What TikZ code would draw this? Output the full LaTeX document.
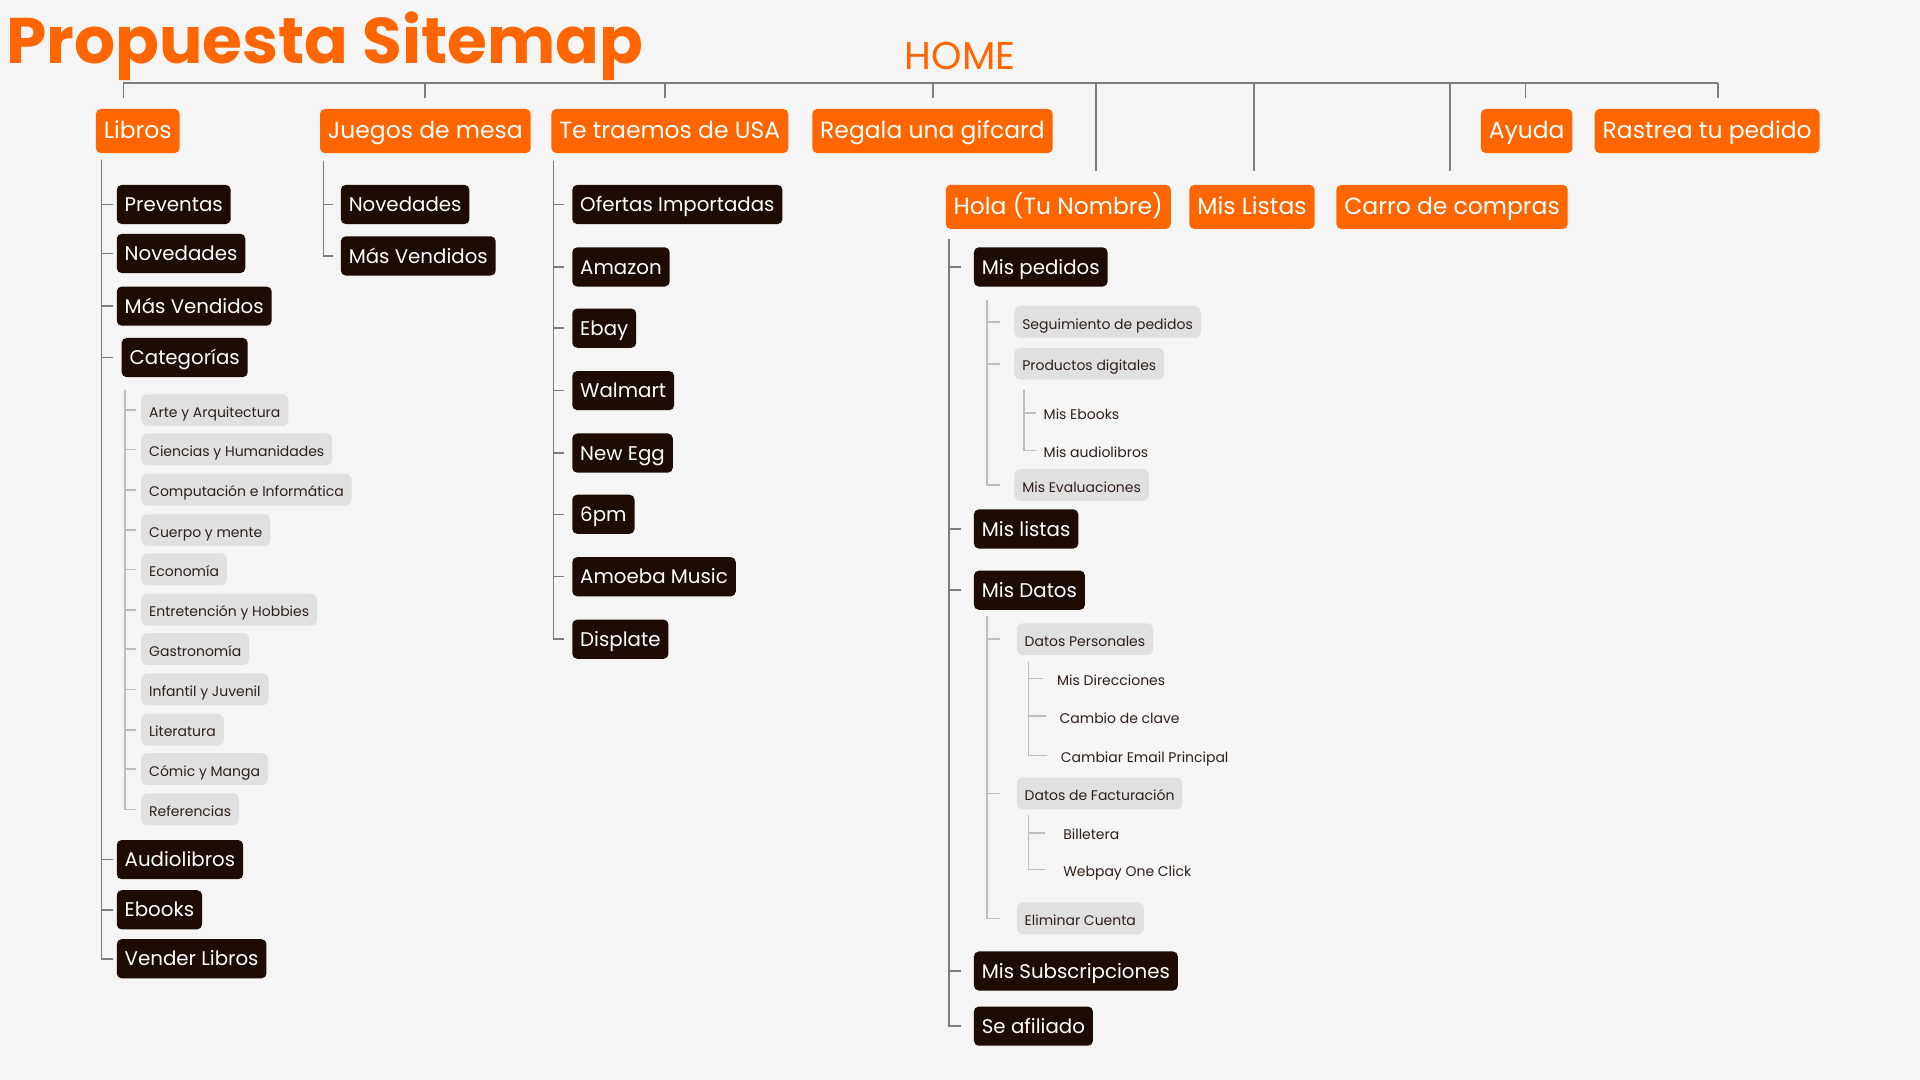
\documentclass[tikz,border=0pt]{standalone}
\usepackage{fontspec}
\setmainfont{Poppins}
\usetikzlibrary{calc,positioning}
\definecolor{naranja}{HTML}{FF6600}
\definecolor{oscuro}{HTML}{1C0C04}
\definecolor{gris}{HTML}{E0E0E0}
\definecolor{linea}{HTML}{7D7D7D}
\definecolor{lineaclara}{HTML}{BDBDBD}
\definecolor{fondo}{HTML}{F5F5F5}
\definecolor{textogris}{HTML}{2E2019}
\tikzset{
  titulo/.style={text=naranja, font=\fontsize{30}{35}\selectfont\bfseries, inner sep=0pt, anchor=base west},
  inicio/.style={text=naranja, font=\fontsize{18}{21}\selectfont, inner sep=0pt, anchor=base},
  caja/.style={inner xsep=0.13cm, inner ysep=0pt, anchor=west, text height=0.8em, text depth=0.14em},
  nivel1/.style={caja, fill=naranja, text=white, rounded corners=0.08cm, font=\fontsize{10.9}{13}\selectfont, minimum height=0.72cm},
  nivel2/.style={caja, fill=oscuro, text=white, rounded corners=0.08cm, font=\fontsize{9.2}{11}\selectfont, minimum height=0.64cm},
  nivel3/.style={caja, fill=gris, text=textogris, rounded corners=0.1cm, font=\fontsize{6.5}{8}\selectfont, minimum height=0.52cm},
  nivel4/.style={text=textogris, font=\fontsize{6.5}{8}\selectfont, inner sep=0pt, anchor=west, text height=0.8em, text depth=0.14em},
  rama/.style={draw=linea, line width=0.7pt, shorten >=#1},
  rama/.default=0pt,
  ramita/.style={draw=lineaclara, line width=0.8pt, shorten >=#1},
  ramita/.default=0pt,
}
\begin{document}
\begin{tikzpicture}[x=0.02cm,y=-0.02cm]
	\fill[fondo] (0,0) rectangle (1568,882);
	\useasboundingbox (0,0) rectangle (1568,882);
	\node[titulo] (titulo) at (5,52) {Propuesta Sitemap};
	\node[inicio] (home) at (784,57) {HOME};

	\node[nivel1] (libros) at (78,107) {Libros};
	\node[nivel1] (juegos) at (261,107) {Juegos de mesa};
	\node[nivel1] (usa) at (450,107) {Te traemos de USA};
	\node[nivel1] (regala) at (663,107) {Regala una gifcard};
	\node[nivel1] (ayuda) at (1209,107) {Ayuda};
	\node[nivel1] (rastrea) at (1302,107) {Rastrea tu pedido};
	\node[nivel1] (hola) at (772,169) {Hola (Tu Nombre)};
	\node[nivel1] (listas) at (971,169) {Mis Listas};
	\node[nivel1] (carro) at (1091,169) {Carro de compras};

	\coordinate (barra) at ($(rastrea.north west)+(101,-21)$);
	\foreach \n/\dx/\dy in {libros/23/-9, juegos/86/-9, usa/93/-9, regala/99/-9, hola/123/-11, listas/53/-11, carro/93/-11, ayuda/37/-9, rastrea/101/-9} {
		\draw[rama] ($(\n.north west)+(\dx,\dy)$) |- (barra);
	};

	\coordinate (r-libros) at ($(libros.south west)+(5,5)$);
	\foreach \t/\y [count=\i] in {Preventas/167, Novedades/207, Más Vendidos/250} {
		\node[nivel2] (lib\i) at (95,\y) {\t};
		\draw[rama=0.06cm] (r-libros) |- (lib\i.west);
	};
	\node[nivel2] (cat) at (99,292) {Categorías};
	\draw[rama=0.14cm] (r-libros) |- (cat.west);
	\foreach \t/\y [count=\i from 4] in {Audiolibros/702, Ebooks/743, Vender Libros/783} {
		\node[nivel2] (lib\i) at (95,\y) {\t};
		\draw[rama=0.06cm] (r-libros) |- (lib\i.west);
	};
	\coordinate (r-cat) at ($(cat.south west)+(3,10)$);
	\foreach \t/\y [count=\i] in {Arte y Arquitectura/335, Ciencias y Humanidades/367, Computación e Informática/400, Cuerpo y mente/433, Economía/465, Entretención y Hobbies/498, Gastronomía/530, Infantil y Juvenil/563, Literatura/596, Cómic y Manga/628, Referencias/661} {
		\node[nivel3] (cat\i) at (115,\y) {\t};
		\draw[ramita=0.08cm] (r-cat) |- (cat\i.west);
	};

	\coordinate (r-juegos) at ($(juegos.south west)+(3,6)$);
	\foreach \t/\y [count=\i] in {Novedades/167, Más Vendidos/209} {
		\node[nivel2] (jue\i) at (278,\y) {\t};
		\draw[rama=0.12cm] (r-juegos) |- (jue\i.west);
	};

	\coordinate (r-usa) at ($(usa.south west)+(2,6)$);
	\foreach \t/\y [count=\i] in {Ofertas Importadas/167, Amazon/218, Ebay/268, Walmart/319, New Egg/370, 6pm/420, Amoeba Music/471, Displate/522} {
		\node[nivel2] (usa\i) at (467,\y) {\t};
		\draw[rama=0.12cm] (r-usa) |- (usa\i.west);
	};

	\coordinate (r-hola) at ($(hola.south west)+(3,8)$);
	\foreach \t/\y [count=\i] in {Mis pedidos/218, Mis listas/432, Mis Datos/482, Mis Subscripciones/793, Se afiliado/838} {
		\node[nivel2] (hola\i) at (795,\y) {\t};
		\draw[rama=0.2cm] (r-hola) |- (hola\i.west);
	};

	\coordinate (r-ped) at ($(hola1.south west)+(11,11)$);
	\foreach \t/\y [count=\i] in {Seguimiento de pedidos/263, Productos digitales/297, Mis Evaluaciones/396} {
		\node[nivel3] (ped\i) at (828,\y) {\t};
		\draw[ramita=0.22cm] (r-ped) |- (ped\i.west);
	};
	\coordinate (r-dig) at ($(ped2.south west)+(8,8)$);
	\foreach \t/\y [count=\i] in {Mis Ebooks/337, Mis audiolibros/368} {
		\node[nivel4] (dig\i) at (852,\y) {\t};
		\draw[ramita=0.12cm] (r-dig) |- (dig\i.west);
	};

	\coordinate (r-datos) at ($(hola3.south west)+(11,5)$);
	\foreach \t/\y [count=\i] in {Datos Personales/522, Datos de Facturación/648, Eliminar Cuenta/750} {
		\node[nivel3] (dat\i) at (830,\y) {\t};
		\draw[ramita=0.26cm] (r-datos) |- (dat\i.west);
	};
	\coordinate (r-pers) at ($(dat1.south west)+(10,5)$);
	\foreach \t/\x/\y [count=\i] in {Mis Direcciones/863/554, Cambio de clave/865/585, Cambiar Email Principal/866/617} {
		\node[nivel4] (per\i) at (\x,\y) {\t};
		\draw[ramita=0.22cm] (r-pers) |- (per\i.west);
	};
	\coordinate (r-fact) at ($(dat2.south west)+(10,4)$);
	\foreach \t/\y [count=\i] in {Billetera/680, Webpay One Click/710} {
		\node[nivel4] (fac\i) at (868,\y) {\t};
		\draw[ramita=0.3cm] (r-fact) |- (fac\i.west);
	};
\end{tikzpicture}
\end{document}
